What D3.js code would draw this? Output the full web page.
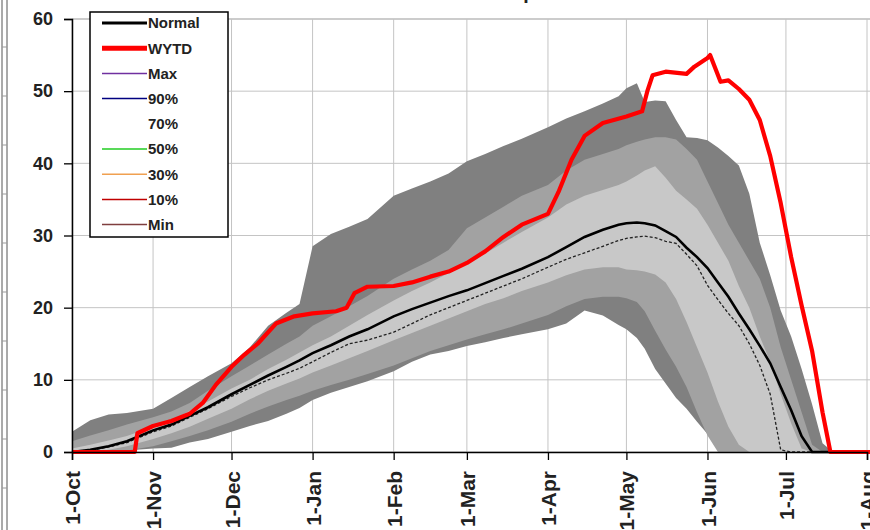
<!DOCTYPE html>
<html>
<head>
<meta charset="utf-8">
<script src="https://cdn.jsdelivr.net/npm/d3@7"></script>
<style>
  html, body { margin: 0; padding: 0; background: #fff; }
  svg { display: block; font-family: "Liberation Sans", Arial, sans-serif; }
</style>
</head>
<body>
<svg id="chart" width="870" height="530"></svg>
<script>
// ---------------- DATA ----------------
const titleText = "Snow Water Equivalent";
const monthTicks = ["1-Oct","1-Nov","1-Dec","1-Jan","1-Feb","1-Mar","1-Apr","1-May","1-Jun","1-Jul","1-Aug","1-Sep"];
const monthTickDates = ["2010-10-01","2010-11-01","2010-12-01","2011-01-01","2011-02-01","2011-03-01","2011-04-01","2011-05-01","2011-06-01","2011-07-01","2011-08-01","2011-09-01"];
const yTicks = [0, 10, 20, 30, 40, 50, 60];

const dates = [
  "2010-10-01","2010-10-08","2010-10-15","2010-10-22",
  "2010-11-01","2010-11-08","2010-11-15","2010-11-22",
  "2010-12-01","2010-12-08","2010-12-15","2010-12-22","2010-12-27",
  "2011-01-01","2011-01-08","2011-01-15","2011-01-22",
  "2011-02-01","2011-02-08","2011-02-15","2011-02-22",
  "2011-03-01","2011-03-08","2011-03-15","2011-03-22",
  "2011-04-01","2011-04-08","2011-04-15","2011-04-22","2011-04-28",
  "2011-05-01","2011-05-05","2011-05-08","2011-05-12","2011-05-16","2011-05-20","2011-05-24","2011-05-28",
  "2011-06-01","2011-06-05","2011-06-09","2011-06-13","2011-06-17","2011-06-21","2011-06-25","2011-06-29",
  "2011-07-03","2011-07-07","2011-07-11","2011-07-15","2011-07-19",
  "2011-08-01","2011-09-30"
];
const maxVals = [
  2.8,4.4,5.2,5.4,
  6.0,7.5,9.0,10.5,
  12.3,14.5,17.5,19.3,20.5,
  28.5,30.2,31.2,32.3,
  35.5,36.5,37.5,38.6,
  40.3,41.3,42.4,43.4,
  45.0,46.2,47.2,48.3,49.3,
  50.4,51.1,48.5,48.7,48.6,46.0,43.6,43.5,
  43.2,42.2,41.0,39.7,35.8,29.0,24.5,19.6,
  16.0,11.5,6.6,1.2,0,
  0,0
];
const p90Vals = [
  1.5,2.3,3.0,3.8,
  4.8,5.6,6.8,8.5,
  10.5,12.0,13.5,15.0,16.0,
  17.5,18.8,20.2,21.6,
  24.0,25.3,26.5,28.0,
  31.0,32.5,34.0,35.5,
  37.0,39.0,40.5,41.3,42.0,
  42.5,43.0,43.3,43.6,43.6,43.3,42.0,40.5,
  37.5,34.5,31.5,29.0,26.5,24.0,20.0,14.5,
  10.0,5.5,1.0,0,0,
  0,0
];
const p70Vals = [
  0.5,1.0,1.6,2.2,
  3.5,4.3,5.7,7.0,
  8.8,10.0,11.5,12.8,13.8,
  14.8,16.0,17.5,19.0,
  21.0,22.3,23.5,24.8,
  26.0,27.5,29.0,30.5,
  32.5,34.3,35.5,36.3,37.0,
  37.5,38.3,39.0,39.6,38.0,36.2,35.0,33.7,
  31.5,29.0,26.5,23.0,20.0,16.0,12.5,8.0,
  4.0,0.5,0,0,0,
  0,0
];
const p30Vals = [
  0,0,0.3,0.8,
  1.8,2.6,3.5,4.6,
  6.0,7.3,8.5,9.5,10.2,
  11.0,12.0,13.0,14.0,
  15.5,16.5,17.5,18.5,
  19.5,20.5,21.3,22.3,
  23.5,24.5,25.3,25.6,25.6,
  25.3,25.2,25.0,24.6,23.5,21.2,18.0,14.5,
  11.0,7.0,3.5,1.0,0,0,0,0,
  0,0,0,0,0,
  0,0
];
const p10Vals = [
  0,0,0,0.2,
  0.8,1.5,2.2,3.0,
  4.2,5.3,6.3,7.2,7.8,
  8.5,9.3,10.0,10.8,
  12.0,13.0,14.0,14.8,
  15.6,16.3,17.0,17.8,
  19.0,20.2,21.2,21.5,21.5,
  21.3,20.8,19.5,16.8,14.2,11.8,9.0,5.5,
  2.3,0,0,0,0,0,0,0,
  0,0,0,0,0,
  0,0
];
const minVals = [
  0,0,0,0.2,
  0.5,0.6,1.3,1.8,
  2.8,3.6,4.3,5.3,6.1,
  7.2,8.2,9.0,9.8,
  11.2,12.5,13.5,14.0,
  14.7,15.2,15.8,16.3,
  17.0,17.8,19.6,18.9,17.6,
  17.0,15.8,14.3,11.5,9.5,7.5,6.0,4.2,
  2.5,0.6,0,0,0,0,0,0,
  0,0,0,0,0,
  0,0
];
const normalVals = [
  0,0.3,0.8,1.5,
  3.0,3.8,5.0,6.2,
  8.0,9.3,10.6,11.8,12.7,
  13.7,14.8,16.0,17.0,
  18.8,19.8,20.7,21.6,
  22.4,23.4,24.4,25.4,
  27.0,28.4,29.8,30.8,31.5,
  31.7,31.8,31.7,31.4,30.6,29.8,28.3,27.0,
  25.5,23.5,21.5,19.2,17.0,14.7,12.3,9.0,
  5.8,2.2,0,0,0,
  0,0
];
const medianVals = [
  0,0.2,0.7,1.3,
  2.8,3.6,4.8,6.0,
  7.7,8.9,10.0,10.9,11.6,
  12.5,13.8,15.0,15.5,
  16.6,17.8,19.0,20.0,
  21.0,22.0,23.0,24.0,
  25.6,26.7,27.6,28.5,29.3,
  29.6,29.8,29.9,29.7,29.2,28.9,27.4,25.8,
  23.1,21.1,19.2,17.5,15.0,12.0,8.0,0.3,
  0,0,0,0,0,
  0,0
];
const wytdDates = [
  "2010-10-01","2010-10-25","2010-10-26","2010-11-01","2010-11-08","2010-11-15","2010-11-20","2010-11-25",
  "2010-12-01","2010-12-06","2010-12-11","2010-12-18","2010-12-25",
  "2011-01-01","2011-01-10","2011-01-14","2011-01-17","2011-01-22",
  "2011-02-01","2011-02-08","2011-02-15","2011-02-22",
  "2011-03-01","2011-03-08","2011-03-15","2011-03-22",
  "2011-04-01","2011-04-05","2011-04-10","2011-04-15","2011-04-22",
  "2011-05-01","2011-05-07","2011-05-09","2011-05-11","2011-05-16","2011-05-24","2011-05-27",
  "2011-06-01","2011-06-02","2011-06-06","2011-06-09","2011-06-13","2011-06-17","2011-06-21","2011-06-25","2011-06-29",
  "2011-07-03","2011-07-07","2011-07-11","2011-07-15","2011-07-18","2011-09-30"
];
const wytdVals = [
  0,0,2.6,3.6,4.3,5.3,6.8,9.3,
  11.8,13.5,15.0,17.8,18.8,
  19.2,19.5,20.0,22.0,22.9,
  23.0,23.5,24.3,25.0,
  26.2,27.8,29.8,31.5,
  33.0,36.0,40.5,43.8,45.6,
  46.5,47.2,50.0,52.2,52.7,52.4,53.4,
  54.6,55.0,51.3,51.5,50.3,48.8,46.0,41.0,34.5,
  27.0,20.3,14.0,5.5,0,0
];
const legendLabels = ["Normal","WYTD","Max","90%","70%","50%","30%","10%","Min"];
const legendColors = ["#000000","#ff0000","#7030a0","#000080","none","#22cc22","#f0a050","#c00000","#7f3f3f"];
const legendWidths = [3,5,1.5,1.5,0,1.5,1.5,1.5,1.5];

// ---------------- DRAW ----------------
(function draw() {
  const parse = d3.timeParse("%Y-%m-%d");
  const svg = d3.select("#chart");
  const W = 870, H = 530;
  const pL = 72, pT = 19, pB = 452;

  const x = d3.scaleTime()
    .domain([parse("2010-10-01"), parse("2011-08-01")])
    .range([pL, 867]);
  const y = d3.scaleLinear().domain([0, 60]).range([pB, pT]);

  const rows = dates.map((d, i) => ({
    date: parse(d), max: maxVals[i], p90: p90Vals[i], p70: p70Vals[i],
    p30: p30Vals[i], p10: p10Vals[i], min: minVals[i],
    normal: normalVals[i], median: medianVals[i]
  }));
  const wytd = wytdDates.map((d, i) => ({ date: parse(d), v: wytdVals[i] }));

  // left page decorations (neighbouring frame)
  const deco = svg.append("g");
  deco.append("line").attr("x1", 2).attr("x2", 2).attr("y1", 0).attr("y2", H).attr("stroke", "#555").attr("stroke-width", 1);
  deco.append("line").attr("x1", 7).attr("x2", 7).attr("y1", 0).attr("y2", H).attr("stroke", "#555").attr("stroke-width", 1);
  d3.range(47, H, 49).forEach(v => {
    deco.append("line").attr("x1", 2).attr("x2", 7).attr("y1", v).attr("y2", v).attr("stroke", "#999").attr("stroke-width", 1);
  });

  // title (mostly cut off at top, as in the reference)
  svg.append("text").attr("x", 494).attr("y", -1).attr("text-anchor", "middle")
    .attr("font-size", 20).attr("font-weight", "bold").attr("fill", "#222").text(titleText);

  // grid
  const grid = svg.append("g");
  yTicks.forEach(v => {
    grid.append("line").attr("x1", pL).attr("x2", W).attr("y1", y(v)).attr("y2", y(v))
      .attr("stroke", v === 60 ? "#999" : "#c4c4c4").attr("stroke-width", 1);
  });
  monthTickDates.forEach(d => {
    const xx = x(parse(d));
    grid.append("line").attr("x1", xx).attr("x2", xx).attr("y1", pT).attr("y2", pB)
      .attr("stroke", "#c4c4c4").attr("stroke-width", 1);
  });

  // bands
  const band = (lo, hi) => d3.area().x(d => x(d.date)).y0(d => y(d[lo])).y1(d => y(d[hi]));
  svg.append("path").datum(rows).attr("d", band("min", "max")).attr("fill", "#808080");
  svg.append("path").datum(rows).attr("d", band("p10", "p90")).attr("fill", "#a2a2a2");
  svg.append("path").datum(rows).attr("d", band("p30", "p70")).attr("fill", "#c8c8c8");

  // median dashed
  svg.append("path").datum(rows)
    .attr("d", d3.line().x(d => x(d.date)).y(d => y(d.median)))
    .attr("fill", "none").attr("stroke", "#222").attr("stroke-width", 1.3).attr("stroke-dasharray", "3,2");
  // normal
  svg.append("path").datum(rows)
    .attr("d", d3.line().x(d => x(d.date)).y(d => y(d.normal)))
    .attr("fill", "none").attr("stroke", "#000").attr("stroke-width", 2.6);
  // WYTD
  svg.append("path").datum(wytd)
    .attr("d", d3.line().x(d => x(d.date)).y(d => y(d.v)))
    .attr("fill", "none").attr("stroke", "#ff0000").attr("stroke-width", 4.2).attr("stroke-linejoin", "round");

  // axes
  const yAxis = d3.axisLeft(y).tickValues(yTicks).tickSize(8).tickPadding(11);
  const gy = svg.append("g").attr("transform", `translate(${pL},0)`).call(yAxis);
  gy.select(".domain").attr("stroke", "#000").attr("stroke-width", 1.5);
  gy.selectAll(".tick line").attr("stroke", "#000").attr("stroke-width", 1.3);
  gy.selectAll(".tick text").attr("font-size", 18).attr("font-weight", "bold").attr("fill", "#222")
    .attr("font-family", "'Liberation Sans', Arial, sans-serif");

  const xAxis = d3.axisBottom(x)
    .tickValues(monthTickDates.map(parse))
    .tickFormat((d, i) => monthTicks[i]).tickSize(8);
  const gx = svg.append("g").attr("transform", `translate(0,${pB})`).call(xAxis);
  gx.select(".domain").attr("stroke", "#000").attr("stroke-width", 1.5);
  gx.selectAll(".tick line").attr("stroke", "#000").attr("stroke-width", 1.3);
  gx.selectAll(".tick text")
    .attr("font-size", 21).attr("font-weight", "bold").attr("fill", "#222")
    .attr("font-family", "'Liberation Sans', Arial, sans-serif")
    .attr("text-anchor", "end")
    .attr("transform", "translate(0,19) rotate(-90)")
    .attr("x", 0).attr("y", 0).attr("dy", "0.36em");

  // legend
  const lg = svg.append("g");
  lg.append("rect").attr("x", 90).attr("y", 12).attr("width", 138).attr("height", 225)
    .attr("fill", "#fff").attr("stroke", "#000").attr("stroke-width", 1.5);
  legendLabels.forEach((lab, i) => {
    const yy = 23 + i * 25.2;
    if (legendColors[i] !== "none") {
      lg.append("line").attr("x1", 102).attr("x2", 147).attr("y1", yy).attr("y2", yy)
        .attr("stroke", legendColors[i]).attr("stroke-width", legendWidths[i]);
    }
    lg.append("text").attr("x", 148).attr("y", yy).attr("dy", "0.36em")
      .attr("font-size", 15).attr("font-weight", "bold").attr("fill", "#222").text(lab);
  });
})();
</script>
</body>
</html>
